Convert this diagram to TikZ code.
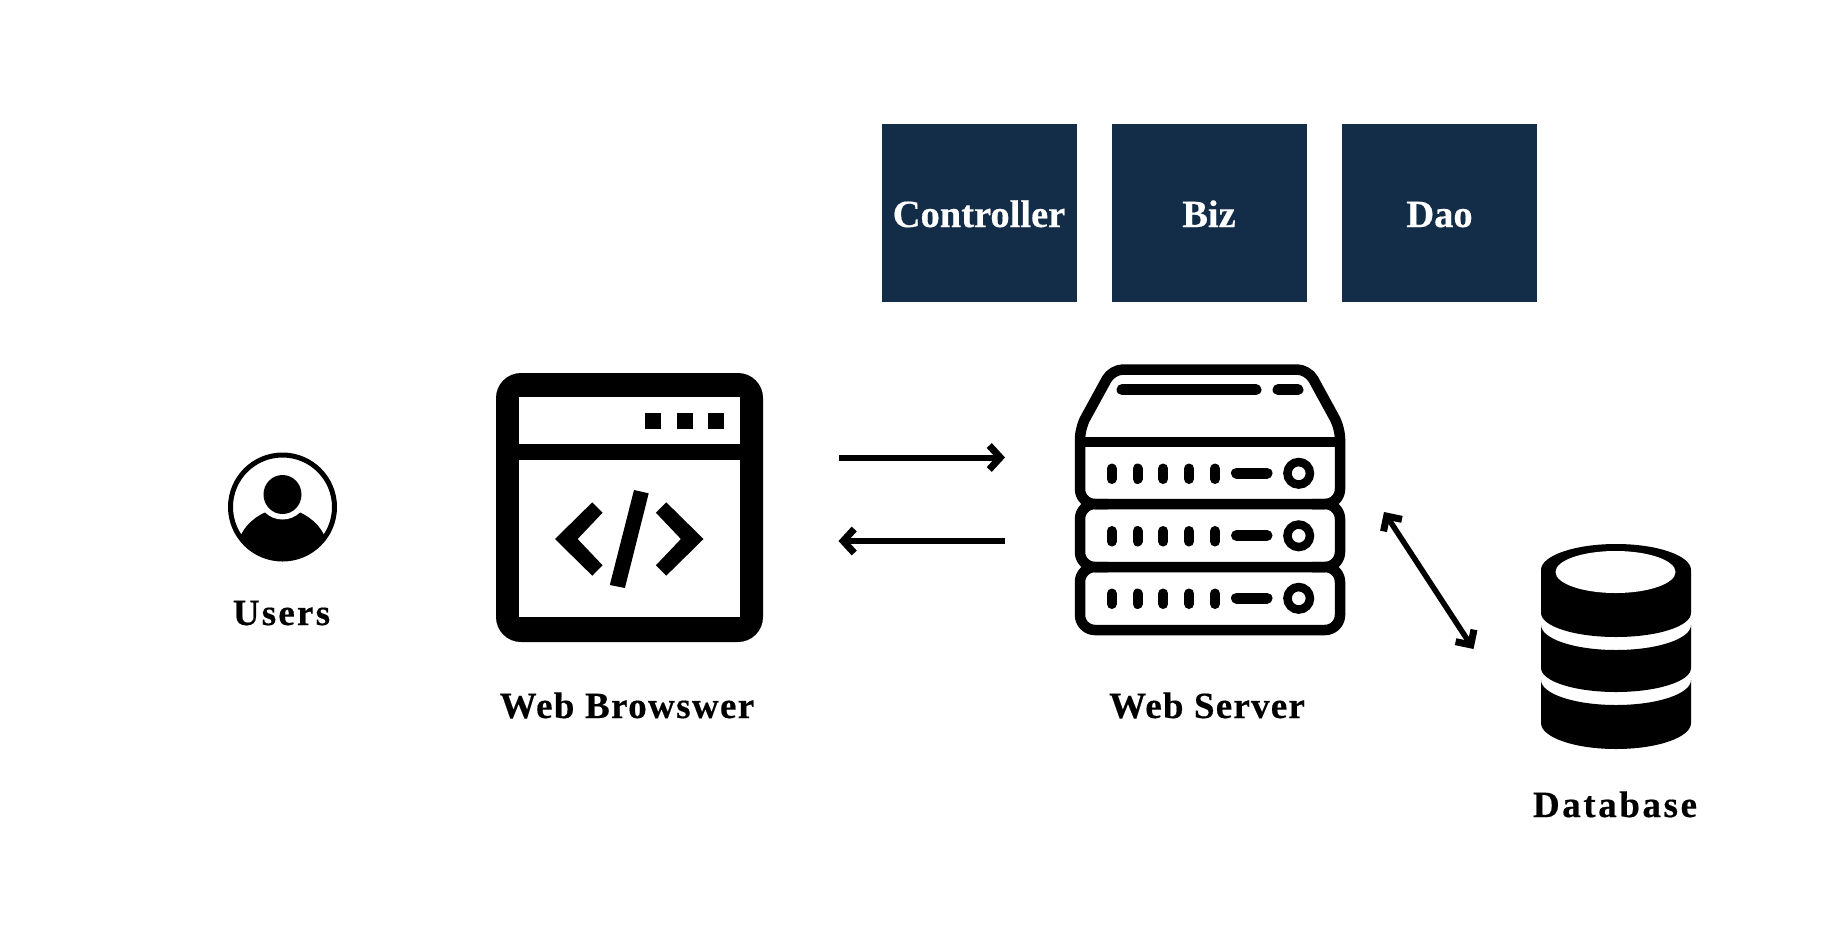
\documentclass[tikz,border=0pt]{standalone}
\usepackage{fontspec}
\setmainfont{Liberation Serif}
\usetikzlibrary{arrows.meta}
\definecolor{navy}{HTML}{132C48}
\newcommand{\lsp}[2]{\addfontfeature{LetterSpace=#1,FakeBold=0.4}#2}
\tikzset{
  layerbox/.style={rectangle,fill=navy,text=white,inner sep=0pt,minimum width=195pt,minimum height=178pt,text height=28pt,text depth=0pt,font=\fontsize{38.5}{40}\selectfont\bfseries},
  iconlabel/.style={anchor=base,inner sep=0pt,text=black,font=\fontsize{37}{40}\selectfont\bfseries},
  link/.style={line width=5.5pt,{Straight Barb[length=11pt,width=22pt,line width=7pt]}-{Straight Barb[length=11pt,width=22pt,line width=7pt]}},
  oneway/.style={line width=6pt,-{Straight Barb[length=11pt,width=24pt,line width=7pt]}},
  srvline/.style={draw=black,line width=10.5pt,line join=round},
  srvtick/.style={line width=10pt,line cap=round},
}
\begin{document}
\begin{tikzpicture}[x=1pt,y=-1pt]
\useasboundingbox (0,0) rectangle (1842,930);
\fill[white] (0,0) rectangle (1842,930);

% layer boxes
\node[layerbox] (controller) at (979,213) {\lsp{0}{Controller}};
\node[layerbox] (biz) at (1209,213) {\lsp{0}{Biz}};
\node[layerbox] (dao) at (1439.5,213) {\lsp{0}{Dao}};

% user icon
\begin{scope}
  \clip (282.5,507) circle[radius=52];
  \fill[black] (228,570) -- (238,545) .. controls (240,530) and (252,518) .. (266,512)
     -- (299,512) .. controls (313,518) and (325,530) .. (327,545) -- (337,570) -- cycle;
  \fill[white] (282.5,494.5) circle[radius=25];
\end{scope}
\fill[black] (282.5,494.5) ellipse[x radius=19,y radius=19.5];
\draw[black,line width=5pt] (282.5,507) circle[radius=52];
\node[iconlabel] (users) at (281.5,625) {\lsp{6}{Users}};

% browser icon
\begin{scope}[xshift=-2pt]
\fill[black,rounded corners=25pt] (498,373) rectangle (765,642);
\fill[white] (521,397) rectangle (742,444);
\fill[white] (521,460) rectangle (742,617);
\fill[black] (647,413) rectangle (663,429);
\fill[black] (678.5,413) rectangle (694.5,429);
\fill[black] (710,413) rectangle (726,429);
\fill[black] (594.3,502.3) -- (604.6,512.7) -- (579.6,539) -- (604.6,565.3) -- (594.3,575.7) -- (557,539) -- cycle;
\fill[black] (668.2,502.3) -- (657.9,512.7) -- (682.9,539) -- (657.9,565.3) -- (668.2,575.7) -- (705.5,539) -- cycle;
\fill[black] (636,490) -- (650.7,493.3) -- (626.9,588) -- (611.8,585) -- cycle;
\end{scope}
\node[iconlabel] (browser) at (627,718) {\lsp{3.7}{Web Browswer}};

% browser <-> server
\coordinate (bOut) at (839,457.5);
\coordinate (sIn) at (1005,457.5);
\coordinate (sOut) at (1005,541);
\coordinate (bIn) at (838.5,541);
\draw[oneway] (bOut) -- (sIn);
\draw[oneway] (sOut) -- (bIn);

% server icon
\draw[srvline,rounded corners=11pt] (1080,442) -- (1080,428) -- (1112,369.5) -- (1308,369.5) -- (1340,428) -- (1340,442);
\draw[srvline] (1080,442) -- (1340,442);
\draw[srvline,rounded corners=15pt] (1080,442) -- (1080,504) -- (1340,504) -- (1340,442);
\draw[srvline,rounded corners=15pt] (1108,504) -- (1080,504) -- (1080,567) -- (1340,567) -- (1340,504) -- (1312,504);
\draw[srvline,rounded corners=15pt] (1108,567) -- (1080,567) -- (1080,630) -- (1340,630) -- (1340,567) -- (1312,567);
\draw[srvtick,line width=11pt] (1122,389.7) -- (1256,389.7);
\draw[srvtick,line width=11pt] (1278,389.7) -- (1298,389.7);
\foreach \dy in {0,62.5,125}{
  \foreach \xx in {1111.7,1137.5,1163.3,1189.1,1215}{
    \draw[srvtick] (\xx,468.5+\dy) -- (\xx,479+\dy);
  }
  \draw[srvtick,line width=11pt] (1236.5,473+\dy) -- (1267,473+\dy);
  \draw[black,line width=8.5pt] (1298.7,473.3+\dy) circle[radius=11.25];
}
\node[iconlabel] (server) at (1207,718) {\lsp{3.3}{Web Server}};

% server <-> database
\coordinate (sDb) at (1384,512);
\coordinate (dbS) at (1473.5,649);
\draw[link] (sDb) -- (dbS);

% database icon
\fill[black] (1541,570) arc[start angle=180,end angle=360,x radius=75,y radius=26]
  -- (1691,613) arc[start angle=0,end angle=180,x radius=75,y radius=24] -- cycle;
\fill[white] (1615.5,572) ellipse[x radius=60,y radius=21];
\fill[black] (1541,625) arc[start angle=180,end angle=0,x radius=75,y radius=25]
  -- (1691,668) arc[start angle=0,end angle=180,x radius=75,y radius=24] -- cycle;
\fill[black] (1541,680) arc[start angle=180,end angle=0,x radius=75,y radius=25]
  -- (1691,723) arc[start angle=0,end angle=180,x radius=75,y radius=26] -- cycle;
\node[iconlabel] (database) at (1615,817) {\lsp{7}{Database}};
\end{tikzpicture}
\end{document}
